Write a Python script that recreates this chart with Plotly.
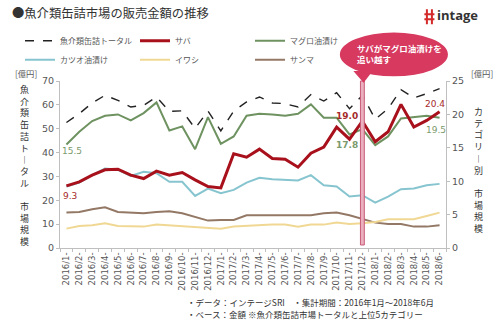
import plotly.graph_objects as go

# Monthly sales of canned seafood (100 million yen)
months = [
    "2016/1-", "2016/2-", "2016/3-", "2016/4-", "2016/5-", "2016/6-",
    "2016/7-", "2016/8-", "2016/9-", "2016/10-", "2016/11-", "2016/12-",
    "2017/1-", "2017/2-", "2017/3-", "2017/4-", "2017/5-", "2017/6-",
    "2017/7-", "2017/8-", "2017/9-", "2017/10-", "2017/11-", "2017/12-",
    "2018/1-", "2018/2-", "2018/3-", "2018/4-", "2018/5-", "2018/6-",
]

# Market total (left axis)
total = [52.6, 56.3, 60.8, 64.0, 61.9, 59.1, 59.8, 63.3, 57.3, 57.5,
         50.1, 57.4, 49.1, 57.4, 61.2, 63.3, 60.8, 60.5, 59.1, 64.3,
         61.6, 65.1, 58.4, 64.0, 54.0, 58.4, 66.4, 62.9, 64.7, 66.8]

# Categories (right axis)
saba = [9.3, 9.9, 10.9, 11.7, 11.8, 10.9, 10.4, 11.5, 10.9, 11.3,
        10.2, 9.2, 9.0, 14.1, 13.6, 14.8, 13.4, 13.3, 12.1, 14.2,
        15.1, 18.1, 16.3, 19.0, 15.9, 17.4, 21.5, 18.1, 19.1, 20.4]
maguro = [15.5, 17.4, 19.0, 19.8, 20.0, 19.1, 20.2, 21.8, 17.6, 18.2,
          14.8, 19.6, 15.6, 16.7, 19.8, 20.1, 20.0, 19.8, 20.1, 21.5,
          19.5, 19.5, 17.0, 17.8, 15.4, 16.7, 19.4, 19.6, 19.8, 19.5]
katsuo = [9.2, 9.8, 10.9, 11.9, 11.7, 10.8, 11.4, 11.2, 9.9, 9.9,
          7.8, 8.9, 8.2, 8.7, 9.8, 10.5, 10.3, 10.2, 10.1, 10.9,
          9.4, 9.2, 7.7, 7.9, 6.8, 7.7, 8.8, 8.9, 9.4, 9.6]
iwashi = [2.9, 3.3, 3.4, 3.7, 3.3, 3.2, 3.2, 3.5, 3.4, 3.2,
          3.1, 3.1, 2.9, 3.2, 3.3, 3.5, 3.5, 3.5, 3.2, 3.5,
          3.5, 3.8, 3.6, 3.7, 3.9, 4.3, 4.3, 4.3, 4.8, 5.3]
sanma = [5.3, 5.4, 5.8, 6.1, 5.4, 5.3, 5.2, 5.4, 5.5, 5.2,
         4.6, 4.1, 4.2, 4.2, 4.9, 4.9, 4.9, 4.8, 4.8, 4.9,
         5.2, 5.3, 4.9, 4.3, 3.8, 3.6, 3.6, 3.2, 3.2, 3.4]

JP = "Noto Sans CJK JP"
NUM = "DejaVu Sans"

C_TOTAL = "#222222"
C_SABA = "#a8101c"
C_MAGURO = "#6e9260"
C_KATSUO = "#86c5cf"
C_IWASHI = "#f0d894"
C_SANMA = "#947866"

fig = go.Figure()

# draw order: background lines first, サバ and total on top
series = [
    ("サンマ", sanma, C_SANMA, 2, "solid", "y2", 6),
    ("イワシ", iwashi, C_IWASHI, 2, "solid", "y2", 5),
    ("カツオ油漬け", katsuo, C_KATSUO, 2, "solid", "y2", 4),
    ("マグロ油漬け", maguro, C_MAGURO, 2, "solid", "y2", 3),
    ("サバ", saba, C_SABA, 3, "solid", "y2", 2),
    ("魚介類缶詰トータル", total, C_TOTAL, 1.4, "dash", "y", 1),
]
for name, vals, color, width, dash, yax, rank in series:
    fig.add_trace(go.Scatter(
        x=months, y=vals, name=name, mode="lines", yaxis=yax,
        line=dict(color=color, width=width, dash=dash),
        legendrank=rank, hoverinfo="skip",
    ))

axis_common = dict(
    showline=True, linecolor="#bfbfbf", linewidth=1,
    ticks="outside", ticklen=3, tickcolor="#bfbfbf",
    showgrid=False, zeroline=False,
    tickfont=dict(family=NUM, size=9.5, color="#555555"),
)

fig.update_layout(
    width=500, height=332,
    margin=dict(l=60, r=54, t=81, b=84),
    paper_bgcolor="white", plot_bgcolor="white",
    xaxis=dict(
        type="category", range=[-0.5, 29.5], tickangle=-90,
        showline=True, linecolor="#bfbfbf", ticks="outside", ticklen=3,
        tickcolor="#bfbfbf", tickson="boundaries", showgrid=False,
        tickfont=dict(family=NUM, size=8.5, color="#555555"),
    ),
    yaxis=dict(range=[0, 70], dtick=10, **axis_common),
    yaxis2=dict(range=[0, 25], dtick=5, overlaying="y", side="right",
                **axis_common),
    legend=dict(
        orientation="h", x=-0.1036, y=1.328, xanchor="left", yanchor="top",
        entrywidth=70, entrywidthmode="pixels", itemwidth=30,
        font=dict(family=JP, size=8, color="#555555"),
        bgcolor="rgba(0,0,0,0)", traceorder="normal",
    ),
    showlegend=True,
)

ann = []
# title
ann.append(dict(text="●魚介類缶詰市場の販売金額の推移", x=-0.1295, y=1.405,
                xref="paper", yref="paper", xanchor="left", yanchor="middle",
                showarrow=False, font=dict(family=JP, size=12.3, color="#333333")))
# logo text
ann.append(dict(text="<b>intage</b>", x=0.9715, y=1.393, xref="paper", yref="paper",
                xanchor="left", yanchor="middle", showarrow=False,
                font=dict(family="Open Sans", size=13, color="#333333")))
# unit labels
for xp in (-0.0868, 1.093):
    ann.append(dict(text="[億円]", x=xp, y=1.048, xref="paper", yref="paper",
                    xanchor="center", yanchor="middle", showarrow=False,
                    font=dict(family=JP, size=8.3, color="#555555")))
# vertical axis titles
left_title = list("魚介類缶詰ト") + ["︱"] + list("タル") + [""] + list("市場規模")
right_title = list("カテゴリ") + ["︱"] + ["別", ""] + list("市場規模")
ann.append(dict(text="<br>".join(left_title), x=-0.0907, y=0.493,
                xref="paper", yref="paper", xanchor="center", yanchor="middle",
                showarrow=False, font=dict(family=JP, size=9, color="#333333")))
ann.append(dict(text="<br>".join(right_title), x=1.083, y=0.466,
                xref="paper", yref="paper", xanchor="center", yanchor="middle",
                showarrow=False, font=dict(family=JP, size=9, color="#333333")))

# value labels
L_RED = "#a52a2a"
L_GRN = "#7b9a6c"
def vlabel(i, vals, color, xs, ys, bold=False):
    t = f"{vals[i]:.1f}"
    if bold:
        t = f"<b>{t}</b>"
    ann.append(dict(text=t, x=months[i], y=vals[i], xref="x", yref="y2",
                    xshift=xs, yshift=ys, showarrow=False,
                    xanchor="center", yanchor="middle",
                    font=dict(family=NUM, size=9, color=color)))

vlabel(0, maguro, L_GRN, 6, -7)
vlabel(0, saba, L_RED, 4, -10)
vlabel(23, saba, L_RED, -15, 5, bold=True)
vlabel(23, maguro, L_GRN, -15, -16, bold=True)
vlabel(29, saba, L_RED, -5, 8)
vlabel(29, maguro, L_GRN, -4, -12)

# callout text
ann.append(dict(text="<b>サバがマグロ油漬けを<br>追い越す</b>", x=0.764, y=1.164,
                xref="paper", yref="paper", xanchor="left", yanchor="middle",
                align="left", showarrow=False,
                font=dict(family=JP, size=8.5, color="white")))

# notes
ann.append(dict(text="・データ：インテージSRI　・集計期間：2016年1月～2018年6月",
                x=0.324, y=-0.323, xref="paper", yref="paper",
                xanchor="left", yanchor="middle", showarrow=False,
                font=dict(family=JP, size=8.5, color="#333333")))
ann.append(dict(text="・ベース：金額 ※魚介類缶詰市場トータルと上位5カテゴリー",
                x=0.324, y=-0.397, xref="paper", yref="paper",
                xanchor="left", yanchor="middle", showarrow=False,
                font=dict(family=JP, size=8.5, color="#333333")))

fig.update_layout(annotations=ann)

# highlight bar at 2017/12 and callout bubble
i_cross = months.index("2017/12-")
shapes = [
    dict(type="rect", xref="x", yref="paper", x0=i_cross - 0.15, x1=i_cross + 0.15,
         y0=0.018, y1=1.0, fillcolor="#eab0bf", line=dict(color="#c95a78", width=1),
         layer="above"),
    dict(type="path", xref="paper", yref="paper",
         path="M 0.76 1.06 L 0.81 1.06 L 0.7865 0.99 Z",
         fillcolor="#d7395f", line=dict(width=0)),
    dict(type="circle", xref="paper", yref="paper", x0=0.725, x1=1.005,
         y0=1.028, y1=1.29, fillcolor="#d7395f", line=dict(width=0)),
    # logo mark
    dict(type="path", xref="paper", yref="paper",
         path="M 0.9505 1.43 L 0.9505 1.34 M 0.9635 1.43 L 0.9635 1.34 "
              "M 0.944 1.40 L 0.970 1.40 M 0.944 1.37 L 0.970 1.37",
         line=dict(color="#d42a2a", width=2)),
]
fig.update_layout(shapes=shapes)

fig.write_html("out.html")
